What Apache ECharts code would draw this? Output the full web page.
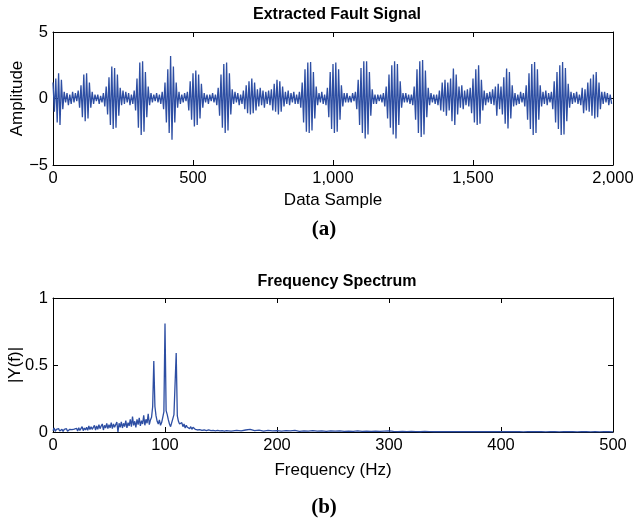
<!DOCTYPE html>
<html>
<head>
<meta charset="utf-8">
<script src="https://cdn.jsdelivr.net/npm/echarts@6/dist/echarts.min.js"></script>
<style>
  html, body { margin: 0; padding: 0; background: #fff; }
  #chart { width: 639px; height: 518px; }
</style>
</head>
<body>
<div id="chart"></div>
<script>
// extracted fault signal, one value every 5 samples (0 .. 1995)
const signalStep = 5;
const signal = [
  1.2, -1.0, 1.5, -1.8, 1.9, -2.0, 1.4, -0.8, 0.5, -0.3, 0.4, -0.5, 0.3, -0.4, 0.5, -0.3, 0.4, -0.2, 0.6, -0.7,
  1.0, -1.4, 1.8, -1.7, 1.9, -1.5, 1.2, -0.7, 0.5, -0.4, 0.3, -0.2, 0.3, -0.4, 0.2, -0.3, 0.4, -0.6, 0.9, -1.2,
  1.6, -2.0, 2.4, -2.3, 2.3, -2.2, 1.8, -1.3, 0.8, -0.5, 0.6, -0.4, 0.5, -0.3, 0.4, -0.5, 0.3, -0.4, 0.6, -0.9,
  1.5, -2.2, 2.7, -2.75, 2.8, -2.5, 2.0, -1.4, 0.9, -0.5, 0.4, -0.3, 0.3, -0.2, 0.4, -0.3, 0.3, -0.4, 0.5, -0.8,
  1.2, -1.8, 2.2, -2.6, 3.2, -3.1, 2.4, -1.8, 1.2, -0.7, 0.5, -0.4, 0.3, -0.3, 0.4, -0.2, 0.5, -0.9, 1.3, -1.6,
  1.9, -2.1, 2.1, -2.0, 1.8, -1.5, 1.1, -0.7, 0.4, -0.3, 0.3, -0.4, 0.3, -0.2, 0.4, -0.3, 0.3, -0.5, 0.8, -1.3,
  1.8, -2.2, 2.6, -2.6, 2.7, -2.4, 1.9, -1.2, 0.7, -0.4, 0.5, -0.3, 0.4, -0.5, 0.3, -0.4, 0.6, -0.8, 1.0, -1.1,
  1.3, -1.2, 1.5, -1.1, 1.2, -0.9, 0.7, -0.6, 0.8, -0.5, 0.6, -0.7, 0.5, -0.4, 0.6, -0.5, 0.7, -0.9, 1.1, -1.0,
  1.4, -1.2, 1.3, -1.0, 0.9, -0.6, 0.5, -0.4, 0.6, -0.5, 0.4, -0.3, 0.5, -0.4, 0.3, -0.4, 0.5, -0.7, 1.2, -1.8,
  2.2, -2.5, 2.7, -2.6, 2.75, -2.4, 2.0, -1.5, 0.9, -0.5, 0.4, -0.3, 0.5, -0.4, 0.3, -0.5, 0.8, -1.4, 2.0, -2.3,
  2.6, -2.6, 2.7, -2.5, 2.2, -1.6, 1.0, -0.6, 0.4, -0.3, 0.4, -0.3, 0.2, -0.3, 0.4, -0.2, 0.5, -0.8, 1.4, -2.0,
  2.3, -2.6, 2.8, -3.0, 2.8, -2.7, 2.0, -1.3, 0.7, -0.4, 0.3, -0.4, 0.3, -0.2, 0.3, -0.3, 0.4, -0.6, 0.9, -1.5,
  1.8, -2.2, 2.5, -2.7, 2.8, -3.0, 2.6, -2.0, 1.3, -0.7, 0.4, -0.3, 0.4, -0.3, 0.3, -0.4, 0.3, -0.5, 0.9, -1.6,
  2.2, -2.6, 2.8, -2.9, 2.9, -2.7, 2.1, -1.4, 0.8, -0.5, 0.4, -0.3, 0.3, -0.4, 0.3, -0.5, 0.6, -0.9, 1.2, -1.0,
  1.4, -1.3, 1.2, -0.9, 1.5, -1.7, 2.25, -2.0, 1.8, -1.2, 0.9, -0.7, 1.0, -0.8, 0.6, -0.5, 0.7, -0.6, 0.8, -1.1,
  1.5, -1.8, 2.2, -2.0, 2.5, -1.9, 1.4, -0.9, 0.6, -0.5, 0.4, -0.3, 0.5, -0.4, 0.7, -0.5, 0.9, -1.3, 1.1, -0.8,
  0.9, -1.2, 1.6, -1.9, 2.25, -2.25, 2.0, -1.5, 1.0, -0.6, 0.4, -0.5, 0.3, -0.4, 0.5, -0.3, 0.4, -0.6, 1.0, -1.6,
  1.9, -2.3, 2.6, -2.75, 2.75, -2.6, 2.2, -1.6, 1.0, -0.6, 0.5, -0.4, 0.6, -0.5, 0.4, -0.3, 0.5, -0.8, 1.3, -1.8,
  2.0, -2.3, 2.5, -2.75, 2.75, -2.7, 2.3, -1.7, 1.1, -0.7, 0.5, -0.4, 0.4, -0.3, 0.5, -0.4, 0.3, -0.5, 0.8, -1.1,
  0.7, -0.9, 1.2, -1.0, 1.5, -1.3, 1.8, -1.5, 2.0, -1.4, 1.2, -0.8, 0.5, -0.4, 0.5, -0.3, 0.4, -0.5, 0.3, -0.4
];

// spectrum |Y(f)|: 1 Hz steps from 0 to 159 Hz, then 4 Hz steps from 160 to 500 Hz
const specHead = [
  0.01, 0.03, 0.005, 0.02, 0.01, 0.025, 0.008, 0.015, 0.02, 0.005,
  0.02, 0.01, 0.025, 0.005, 0.015, 0.02, 0.01, 0.018, 0.006, 0.022,
  0.01, 0.028, 0.008, 0.032, 0.012, 0.025, 0.04, 0.01, 0.03, 0.015,
  0.035, 0.012, 0.045, 0.018, 0.04, 0.02, 0.035, 0.05, 0.015, 0.045,
  0.02, 0.055, 0.025, 0.045, 0.06, 0.015, 0.05, 0.03, 0.065, 0.025,
  0.055, 0.03, 0.07, 0.025, 0.06, 0.035, 0.045, 0.075, 0.0, 0.065,
  0.035, 0.075, 0.03, 0.065, 0.04, 0.085, 0.03, 0.07, 0.045, 0.095,
  0.04, 0.115, 0.05, 0.08, 0.035, 0.095, 0.055, 0.105, 0.045, 0.085,
  0.06, 0.125, 0.05, 0.095, 0.065, 0.135, 0.055, 0.09, 0.11, 0.19,
  0.53, 0.19, 0.12, 0.08, 0.06, 0.09, 0.05, 0.07, 0.11, 0.15,
  0.81, 0.16, 0.13, 0.09, 0.06, 0.04, 0.07, 0.1, 0.13, 0.14,
  0.59, 0.12, 0.08, 0.06, 0.05, 0.07, 0.04, 0.06, 0.03, 0.05,
  0.035, 0.045, 0.025, 0.04, 0.02, 0.035, 0.03, 0.02, 0.03, 0.015,
  0.025, 0.018, 0.03, 0.012, 0.022, 0.015, 0.025, 0.01, 0.02, 0.015,
  0.018, 0.01, 0.022, 0.012, 0.016, 0.008, 0.02, 0.012, 0.015, 0.008,
  0.014, 0.01, 0.018, 0.006, 0.012, 0.01, 0.015, 0.008, 0.012, 0.006
];
const specTailStart = 160;
const specTailStep = 4;
const specTail = [
  0.01,
  0.012, 0.008, 0.015, 0.02, 0.01, 0.014, 0.007, 0.012, 0.009, 0.011,
  0.006, 0.01, 0.008, 0.012, 0.005, 0.009, 0.007, 0.01, 0.006, 0.008,
  0.005, 0.008, 0.006, 0.009, 0.004, 0.007, 0.005, 0.008, 0.004, 0.006,
  0.005, 0.007, 0.004, 0.006, 0.008, 0.004, 0.003, 0.005, 0.003, 0.004,
  0.003, 0.002, 0.004, 0.003, 0.002, 0.003, 0.002, 0.003, 0.002, 0.003,
  0.002, 0.003, 0.002, 0.002, 0.003, 0.002, 0.002, 0.003, 0.002, 0.002,
  0.002, 0.003, 0.002, 0.002, 0.001, 0.002, 0.003, 0.002, 0.002, 0.001,
  0.002, 0.002, 0.001, 0.002, 0.003, 0.002, 0.001, 0.002, 0.002, 0.001,
  0.002, 0.001, 0.002, 0.002, 0.001
];

const lineColor = '#2d4ea3';
const font = 'Liberation Sans, Arial, sans-serif';
const serif = 'Liberation Serif, Times New Roman, serif';

const signalData = signal.map((v, i) => [i * signalStep, v]);
const specData = specHead.map((v, i) => [i, v])
  .concat(specTail.map((v, i) => [specTailStart + i * specTailStep, v]));

const myChart = echarts.init(document.getElementById('chart'));

const baseAxis = {
  axisLine: { show: true, onZero: false, lineStyle: { color: '#000', width: 1 } },
  axisTick: { show: true, inside: true, length: 5, lineStyle: { color: '#000' } },
  splitLine: { show: false },
  nameMoveOverlap: false,
  axisLabel: { color: '#000', fontFamily: font, fontSize: 16.5, margin: 5,
    formatter: v => String(v).replace('-', '\u2212') }
};
const mirror = {
  axisLine: { show: true, onZero: false, lineStyle: { color: '#000', width: 1 } },
  axisTick: { show: true, inside: true, length: 5, lineStyle: { color: '#000' } },
  splitLine: { show: false },
  axisLabel: { show: false }
};
const nameStyle = { fontFamily: font, fontSize: 17, color: '#000' };
const titleStyle = { fontFamily: font, fontSize: 16, fontWeight: 'bold', color: '#000' };

const fmtThousands = v => v >= 1000 ? Math.floor(v / 1000) + ',' + String(v % 1000).padStart(3, '0') : String(v);

const option = {
  animation: false,
  backgroundColor: '#fff',
  title: [
    { text: 'Extracted Fault Signal', left: 332, top: 2, textAlign: 'center', textStyle: titleStyle },
    { text: 'Frequency Spectrum', left: 332, top: 269, textAlign: 'center', textStyle: titleStyle },
    { text: '(a)', left: 319, top: 214, textAlign: 'center',
      textStyle: { fontFamily: serif, fontSize: 21, fontWeight: 'bold', color: '#000' } },
    { text: '(b)', left: 319, top: 492, textAlign: 'center',
      textStyle: { fontFamily: serif, fontSize: 21, fontWeight: 'bold', color: '#000' } }
  ],
  grid: [
    { left: 53, right: 26, top: 32, height: 133, outerBoundsMode: 'none' },
    { left: 53, right: 26, top: 298, height: 134, outerBoundsMode: 'none' }
  ],
  xAxis: [
    Object.assign({}, baseAxis, {
      gridIndex: 0, type: 'value', min: 0, max: 2000, interval: 500, position: 'bottom',
      name: 'Data Sample', nameLocation: 'middle', nameGap: 27, nameTextStyle: nameStyle,
      axisLabel: Object.assign({}, baseAxis.axisLabel, { formatter: fmtThousands })
    }),
    Object.assign({}, mirror, { gridIndex: 0, type: 'value', min: 0, max: 2000, interval: 500, position: 'top' }),
    Object.assign({}, baseAxis, {
      gridIndex: 1, type: 'value', min: 0, max: 500, interval: 100, position: 'bottom',
      name: 'Frequency (Hz)', nameLocation: 'middle', nameGap: 30, nameTextStyle: nameStyle
    }),
    Object.assign({}, mirror, { gridIndex: 1, type: 'value', min: 0, max: 500, interval: 100, position: 'top' })
  ],
  yAxis: [
    Object.assign({}, baseAxis, {
      gridIndex: 0, type: 'value', min: -5, max: 5, interval: 5, position: 'left',
      name: 'Amplitude', nameLocation: 'middle', nameGap: 27, nameTextStyle: nameStyle
    }),
    Object.assign({}, mirror, { gridIndex: 0, type: 'value', min: -5, max: 5, interval: 5, position: 'right' }),
    Object.assign({}, baseAxis, {
      gridIndex: 1, type: 'value', min: 0, max: 1, interval: 0.5, position: 'left',
      name: '|Y(f)|', nameLocation: 'middle', nameGap: 29, nameTextStyle: nameStyle
    }),
    Object.assign({}, mirror, { gridIndex: 1, type: 'value', min: 0, max: 1, interval: 0.5, position: 'right' })
  ],
  series: [
    {
      type: 'line', xAxisIndex: 0, yAxisIndex: 0, data: signalData,
      showSymbol: false, symbol: 'none', lineStyle: { color: lineColor, width: 1.3 }
    },
    {
      type: 'line', xAxisIndex: 2, yAxisIndex: 2, data: specData,
      showSymbol: false, symbol: 'none', lineStyle: { color: lineColor, width: 1.3 }
    }
  ]
};

myChart.setOption(option);
</script>
</body>
</html>
